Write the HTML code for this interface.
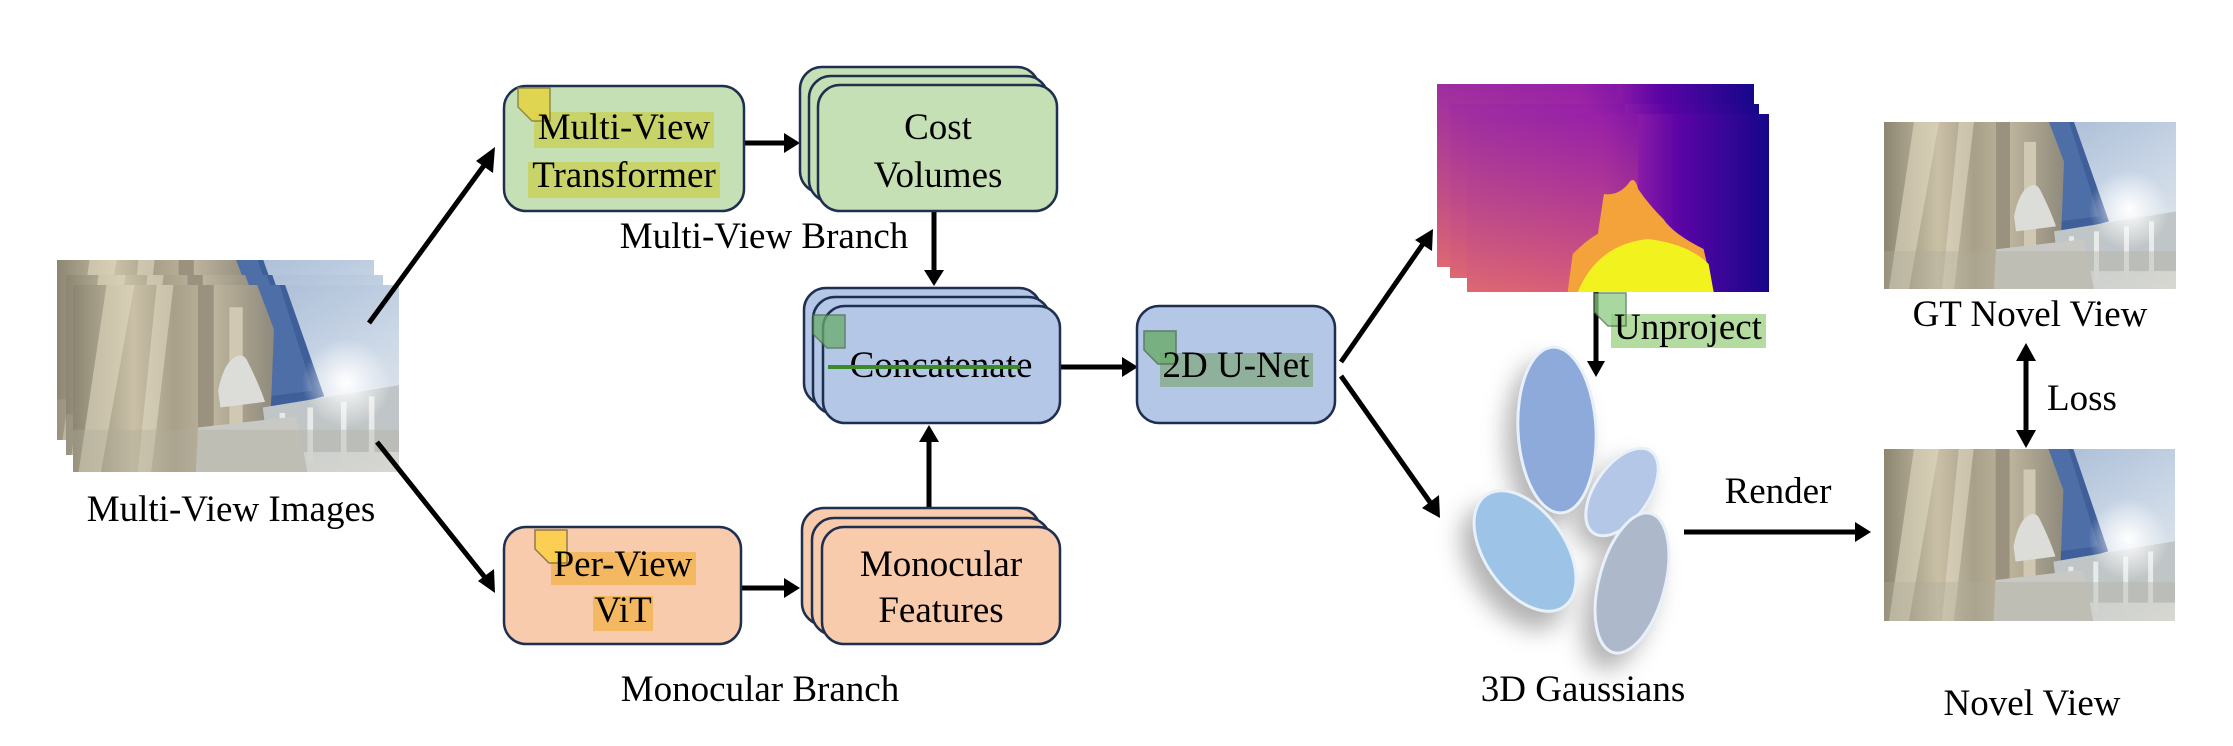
<!DOCTYPE html>
<html><head><meta charset="utf-8"><style>
html,body{margin:0;padding:0;background:#fff;}
svg{display:block;}
svg text{font-family:"Liberation Serif","DejaVu Serif","Times New Roman",Times,serif;font-size:37px;fill:#000;}
</style></head><body>
<svg width="2233" height="746" viewBox="0 0 2233 746" xmlns="http://www.w3.org/2000/svg" font-family="Liberation Serif, DejaVu Serif, serif">
<defs>
<linearGradient id="sky" x1="0" y1="0" x2="1" y2="1"><stop offset="0" stop-color="#8ea6c8"/><stop offset="0.6" stop-color="#c9d6e6"/><stop offset="1" stop-color="#eef0ee"/></linearGradient>
<linearGradient id="wall" x1="0" y1="0" x2="1" y2="0"><stop offset="0" stop-color="#8c8672"/><stop offset="0.3" stop-color="#c9c0a6"/><stop offset="0.5" stop-color="#a9a08a"/><stop offset="0.7" stop-color="#bdb49c"/><stop offset="1" stop-color="#8f8a7c"/></linearGradient>
<radialGradient id="sun" cx="0.5" cy="0.5" r="0.5"><stop offset="0" stop-color="#fff" stop-opacity="1"/><stop offset="1" stop-color="#fff" stop-opacity="0"/></radialGradient>
<symbol id="photo" viewBox="0 0 292 168" preserveAspectRatio="none">
<rect width="292" height="168" fill="url(#sky)"/>
<polygon points="150,0 190,0 225,100 170,115" fill="#3f5f9a"/>
<polygon points="160,0 185,0 215,95 175,100" fill="#5878b0" opacity="0.6"/>
<polygon points="0,0 165,0 180,40 175,168 0,168" fill="url(#wall)"/>
<polygon points="30,0 55,0 25,168 5,168" fill="#e0d8bf" opacity="0.6"/>
<polygon points="75,0 90,0 70,168 58,168" fill="#e8e2cc" opacity="0.5"/>
<rect x="112" y="0" width="14" height="130" fill="#9a927e"/>
<rect x="140" y="20" width="12" height="120" fill="#d0c8b2"/>
<polygon points="170,110 292,90 292,150 175,150" fill="#c0c6c8"/>
<rect x="185" y="115" width="5" height="45" fill="#e8eaea"/><rect x="210" y="110" width="5" height="50" fill="#e8eaea"/><rect x="240" y="105" width="5" height="55" fill="#e8eaea"/><rect x="265" y="100" width="5" height="60" fill="#e8eaea"/>
<circle cx="245" cy="88" r="40" fill="url(#sun)"/>
<path d="M130,95 q5,-25 15,-30 q8,-5 12,5 q10,20 15,35 l-40,5z" fill="#dcdcd8"/>
<polygon points="112,128 200,118 210,168 110,168" fill="#c8c8c4"/>
<rect x="0" y="130" width="292" height="38" fill="#b0ab9c" opacity="0.35"/>
</symbol>
<linearGradient id="dep" x1="0" y1="0" x2="1" y2="0"><stop offset="0" stop-color="#c24c98"/><stop offset="0.45" stop-color="#b22fa8"/><stop offset="0.7" stop-color="#5c04a6"/><stop offset="1" stop-color="#16078a"/></linearGradient>
<linearGradient id="depv" x1="0" y1="0" x2="0" y2="1"><stop offset="0" stop-color="#7b10a8" stop-opacity="0.5"/><stop offset="1" stop-color="#f07a58" stop-opacity="0.6"/></linearGradient>
<symbol id="depth" viewBox="0 0 300 178" preserveAspectRatio="none">
<rect width="300" height="178" fill="url(#dep)"/>
<rect width="170" height="178" fill="url(#depv)"/>
<path d="M100,178 L105,140 Q120,125 130,120 L136,80 Q150,82 160,70 Q166,60 170,75 Q180,90 195,105 Q205,120 235,135 L245,178Z" fill="#f4a23a"/>
<path d="M110,178 Q130,130 180,125 Q220,130 240,150 L245,178Z" fill="#f2f21e"/>
</symbol>
<filter id="blur" x="-50%" y="-50%" width="200%" height="200%"><feGaussianBlur stdDeviation="12"/></filter>
</defs>

<svg x="57" y="260" width="317" height="180"><use href="#photo"/></svg>
<svg x="66" y="275" width="317" height="180"><use href="#photo"/></svg>
<svg x="73" y="285" width="326" height="187"><use href="#photo"/></svg>
<text x="231" y="521" text-anchor="middle" font-size="36">Multi-View Images</text>

<g stroke="#000" stroke-width="5" fill="none">
<line x1="369" y1="323" x2="488" y2="160"/>
<line x1="377" y1="442" x2="487" y2="580"/>
<line x1="744" y1="143" x2="786" y2="143"/>
<line x1="741" y1="588" x2="786" y2="588"/>
<line x1="934" y1="211" x2="934" y2="272"/>
<line x1="929" y1="508" x2="929" y2="440"/>
<line x1="1060" y1="367" x2="1124" y2="367"/>
<line x1="1341" y1="362" x2="1425" y2="241"/>
<line x1="1341" y1="376" x2="1432" y2="505"/>
<line x1="1596" y1="292" x2="1596" y2="362"/>
<line x1="1684" y1="532" x2="1856" y2="532"/>
<line x1="2026" y1="358" x2="2026" y2="433"/>
</g>
<g fill="#000">
<polygon points="495,147 493,173 476,161"/>
<polygon points="495,593 478,581 494,569"/>
<polygon points="800,143 784,133 784,153"/>
<polygon points="800,588 784,578 784,598"/>
<polygon points="934,286 924,270 944,270"/>
<polygon points="929,425 919,442 939,442"/>
<polygon points="1138,367 1122,357 1122,377"/>
<polygon points="1433,229 1432,251 1415,240"/>
<polygon points="1440,518 1422,508 1439,495"/>
<polygon points="1596,377 1587,361 1605,361"/>
<polygon points="1871,532 1855,522 1855,542"/>
<polygon points="2026,343 2016,361 2036,361"/>
<polygon points="2026,448 2016,430 2036,430"/>
</g>

<rect x="504" y="86" width="240" height="125" rx="22" fill="#c5e0b4" stroke="#1f2f4f" stroke-width="2.5"/>
<rect x="534" y="112" width="180" height="36" fill="#c8d36a"/>
<rect x="528" y="162" width="192" height="36" fill="#c8d36a"/>
<path d="M518,88 h32 v33 h-18 l-14,-14z" fill="#e3d447" stroke="#8a8040" stroke-width="1.5" opacity="0.9"/>
<text x="624" y="139" text-anchor="middle">Multi-View</text>
<text x="624" y="187" text-anchor="middle">Transformer</text>

<rect x="800" y="67" width="239" height="126" rx="22" fill="#c5e0b4" stroke="#1f2f4f" stroke-width="2.5"/>
<rect x="809" y="76" width="239" height="126" rx="22" fill="#c5e0b4" stroke="#1f2f4f" stroke-width="2.5"/>
<rect x="818" y="85" width="239" height="126" rx="22" fill="#c5e0b4" stroke="#1f2f4f" stroke-width="2.5"/>
<text x="938" y="139" text-anchor="middle">Cost</text>
<text x="938" y="187" text-anchor="middle">Volumes</text>
<text x="764" y="248" text-anchor="middle" font-size="36">Multi-View Branch</text>

<rect x="804" y="288" width="237" height="117" rx="22" fill="#b4c7e7" stroke="#1f2f4f" stroke-width="2.5"/>
<rect x="813" y="297" width="237" height="117" rx="22" fill="#b4c7e7" stroke="#1f2f4f" stroke-width="2.5"/>
<rect x="823" y="306" width="237" height="117" rx="22" fill="#b4c7e7" stroke="#1f2f4f" stroke-width="2.5"/>
<path d="M813,315 h32 v33 h-18 l-14,-14z" fill="#6aab6a" stroke="#4a6a4a" stroke-width="1.5" opacity="0.75"/>
<text x="941" y="377" text-anchor="middle">Concatenate</text>
<line x1="828" y1="367" x2="1020" y2="367" stroke="#3a8a2a" stroke-width="4"/>

<rect x="1137" y="306" width="198" height="117" rx="22" fill="#b4c7e7" stroke="#1f2f4f" stroke-width="2.5"/>
<rect x="1160" y="353" width="153" height="34" fill="#8fb19c"/>
<path d="M1144,331 h32 v33 h-18 l-14,-14z" fill="#6aab6a" stroke="#4a6a4a" stroke-width="1.5" opacity="0.8"/>
<text x="1236" y="377" text-anchor="middle">2D U-Net</text>

<rect x="504" y="527" width="237" height="117" rx="22" fill="#f8cbad" stroke="#1f2f4f" stroke-width="2.5"/>
<rect x="551" y="552" width="145" height="33" fill="#f4b862"/>
<rect x="593" y="596" width="60" height="35" fill="#f4b862"/>
<path d="M535,530 h32 v33 h-18 l-14,-14z" fill="#fbd04a" stroke="#8a7040" stroke-width="1.5" opacity="0.9"/>
<text x="623" y="576" text-anchor="middle">Per-View</text>
<text x="623" y="622" text-anchor="middle">ViT</text>

<rect x="802" y="508" width="238" height="117" rx="22" fill="#f8cbad" stroke="#1f2f4f" stroke-width="2.5"/>
<rect x="812" y="518" width="238" height="117" rx="22" fill="#f8cbad" stroke="#1f2f4f" stroke-width="2.5"/>
<rect x="822" y="527" width="238" height="117" rx="22" fill="#f8cbad" stroke="#1f2f4f" stroke-width="2.5"/>
<text x="941" y="576" text-anchor="middle">Monocular</text>
<text x="941" y="622" text-anchor="middle">Features</text>
<text x="760" y="701" text-anchor="middle" font-size="36">Monocular Branch</text>

<svg x="1437" y="84" width="317" height="183"><use href="#depth"/></svg>
<svg x="1450" y="104" width="309" height="174"><use href="#depth"/></svg>
<svg x="1467" y="114" width="302" height="178"><use href="#depth"/></svg>

<rect x="1611" y="314" width="155" height="34" fill="#b4dba0"/>
<path d="M1594,293 h32 v33 h-18 l-14,-14z" fill="#8ccc80" stroke="#4a6a4a" stroke-width="1.5" opacity="0.75"/>
<text x="1688" y="339" text-anchor="middle" font-size="36">Unproject</text>

<g filter="url(#blur)" fill="#999" opacity="0.75">
<ellipse cx="1545" cy="445" rx="39" ry="83" transform="rotate(-3 1545 445)"/>
<ellipse cx="1513" cy="568" rx="40" ry="70" transform="rotate(-35 1513 568)"/>
<ellipse cx="1620" cy="600" rx="33" ry="72" transform="rotate(15 1620 600)"/>
<ellipse cx="1612" cy="505" rx="27" ry="50" transform="rotate(35 1612 505)"/>
</g>
<g stroke="#e8f0fa" stroke-width="3">
<ellipse cx="1557" cy="430" rx="39" ry="83" transform="rotate(-3 1557 430)" fill="#8eaadb"/>
<ellipse cx="1622" cy="492" rx="27" ry="50" transform="rotate(35 1622 492)" fill="#b4c7e7"/>
<ellipse cx="1525" cy="551" rx="40" ry="68" transform="rotate(-35 1525 551)" fill="#9dc3e6"/>
<ellipse cx="1632" cy="583" rx="33" ry="72" transform="rotate(15 1632 583)" fill="#adb9ca"/>
</g>
<text x="1583" y="701" text-anchor="middle" font-size="36">3D Gaussians</text>

<text x="1778" y="503" text-anchor="middle" font-size="36">Render</text>

<svg x="1884" y="122" width="292" height="167"><use href="#photo"/></svg>
<text x="2030" y="326" text-anchor="middle" font-size="36">GT Novel View</text>
<text x="2047" y="410" font-size="36">Loss</text>
<svg x="1884" y="449" width="291" height="172"><use href="#photo"/></svg>
<text x="2032" y="715" text-anchor="middle" font-size="36">Novel View</text>
</svg>
</body></html>
